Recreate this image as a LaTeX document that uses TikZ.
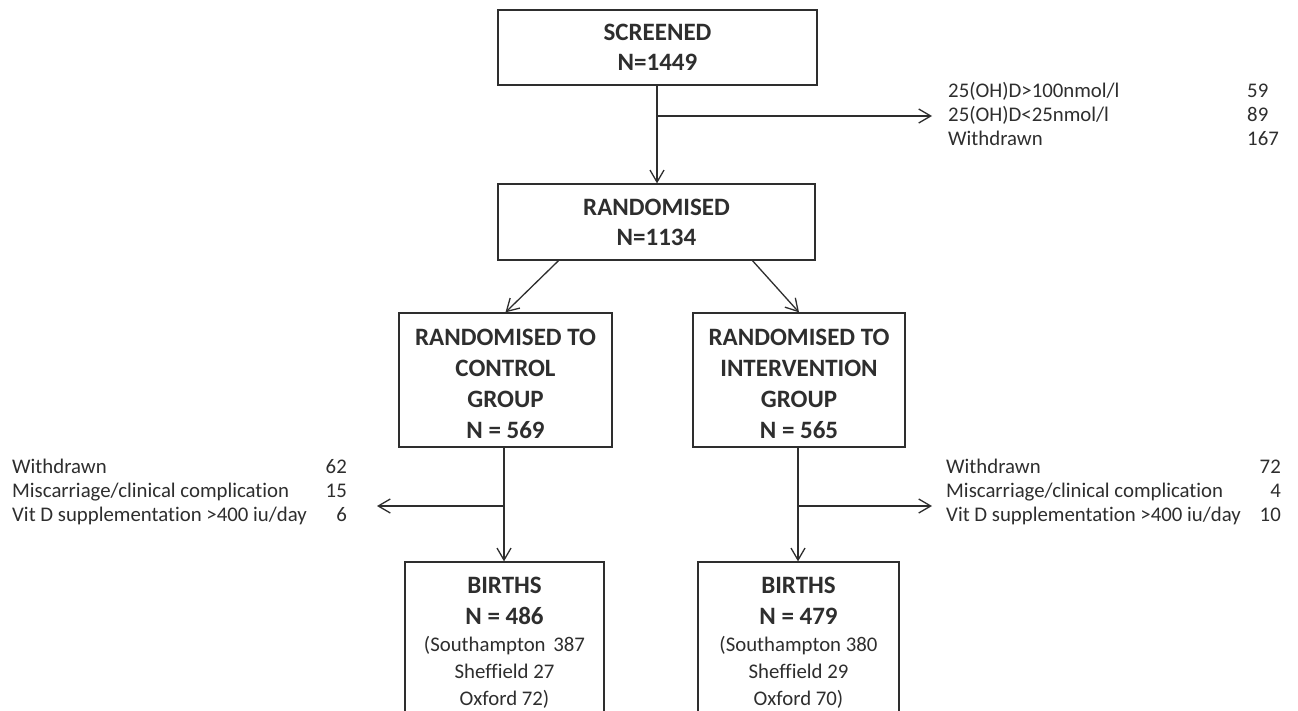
\documentclass[tikz,border=0pt]{standalone}
\usepackage{fontspec}
\setmainfont{Carlito}[Ligatures=NoCommon]
\usetikzlibrary{arrows.meta,calc}
\definecolor{ink}{HTML}{2E2E2E}
\begin{document}
\begin{tikzpicture}[x=1pt,y=-1pt,
  box/.style={draw=ink, line width=1.3pt, inner sep=0pt, align=center, text=ink},
  boldtxt/.style={font=\fontsize{25}{30}\selectfont\bfseries},
  boldfour/.style={font=\fontsize{25}{31}\selectfont\bfseries},
  lbl/.style={font=\fontsize{20.8}{24}\selectfont, text=ink, inner sep=0pt},
  conn/.style={draw=ink, line width=1.3pt, -{Straight Barb[length=12pt,width=14pt,line width=1.3pt]}},
  seg/.style={draw=ink, line width=1.3pt}]
\fill[white] (0,0) rectangle (1298,710);
\useasboundingbox (0,0) rectangle (1298,710);
\clip (0,0) rectangle (1298,710);

% boxes
\node[box,boldtxt,minimum width=319pt,minimum height=75pt] (screened) at (657.5,47.5) {SCREENED\\N=1449};
\node[box,boldtxt,minimum width=317pt,minimum height=76pt] (randomised) at (656.5,222) {RANDOMISED\\N=1134};
\node[box,boldfour,minimum width=213pt,minimum height=134pt] (control) at (505.5,380) {\rule{0pt}{24pt}RANDOMISED TO\\CONTROL\\GROUP\\N = 569};
\node[box,boldfour,minimum width=212pt,minimum height=134pt] (intervention) at (799,380) {\rule{0pt}{24pt}RANDOMISED TO\\INTERVENTION\\GROUP\\N = 565};
\node[box,minimum width=199pt,minimum height=170pt] (birthsL) at (504.5,647) {};
\node[box,minimum width=201pt,minimum height=170pt] (birthsR) at (798.5,647) {};
\node[draw=none,text=ink,align=center,inner sep=0pt,font=\fontsize{20.8}{27}\selectfont] (birthsLtext) at (504.5,643)
  {{\fontsize{25}{27}\selectfont\bfseries BIRTHS}\\[4pt]{\fontsize{25}{27}\selectfont\bfseries N = 486}\\(Southampton\hspace{3pt} 387\\Sheffield 27\\Oxford 72)};
\node[draw=none,text=ink,align=center,inner sep=0pt,font=\fontsize{20.8}{27}\selectfont] (birthsRtext) at (798.5,643)
  {{\fontsize{25}{27}\selectfont\bfseries BIRTHS}\\[4pt]{\fontsize{25}{27}\selectfont\bfseries N = 479}\\(Southampton 380\\Sheffield 29\\Oxford 70)};

% top-right exclusion list
\node[lbl,anchor=base west] (t1) at (948,97) {25(OH)D>100nmol/l};
\node[lbl,anchor=base west] (t2) at (948,121) {25(OH)D<25nmol/l};
\node[lbl,anchor=base west] (t3) at (948,145) {Withdrawn};
\node[lbl,anchor=base west] (n1) at (1247,97) {59};
\node[lbl,anchor=base west] (n2) at (1247,121) {89};
\node[lbl,anchor=base west] (n3) at (1247,145) {167};

% left list
\node[lbl,anchor=base west] (l1) at (12,473) {Withdrawn};
\node[lbl,anchor=base west] (l2) at (12,497) {Miscarriage/clinical complication};
\node[lbl,anchor=base west] (l3) at (12,521) {Vit D supplementation >400 iu/day};
\node[lbl,anchor=base east] (ln1) at (347,473) {62};
\node[lbl,anchor=base east] (ln2) at (347,497) {15};
\node[lbl,anchor=base east] (ln3) at (347,521) {6};

% right list
\node[lbl,anchor=base west] (r1) at (946,473) {Withdrawn};
\node[lbl,anchor=base west] (r2) at (946,497) {Miscarriage/clinical complication};
\node[lbl,anchor=base west] (r3) at (946,521) {Vit D supplementation >400 iu/day};
\node[lbl,anchor=base east] (rn1) at (1281,473) {72};
\node[lbl,anchor=base east] (rn2) at (1281,497) {4};
\node[lbl,anchor=base east] (rn3) at (1281,521) {10};

% connectors
\coordinate (split1) at (657,116);
\coordinate (exc1) at (932,116);
\draw[conn] (screened.south -| split1) -- (randomised.north -| split1);
\draw[conn] (split1) -- (exc1);

\draw[conn] ($(randomised.south)+(-98,0)$) -- (control.north);
\draw[conn] ($(randomised.south)+(96,0)$) -- (intervention.north);

\coordinate (splitL) at (504,506);
\coordinate (excL) at (377,506);
\draw[conn] (control.south -| splitL) -- (birthsL.north -| splitL);
\draw[conn] (splitL) -- (excL);

\coordinate (splitR) at (798,506);
\coordinate (excR) at (932,506);
\draw[conn] (intervention.south -| splitR) -- (birthsR.north -| splitR);
\draw[conn] (splitR) -- (excR);
\end{tikzpicture}
\end{document}
